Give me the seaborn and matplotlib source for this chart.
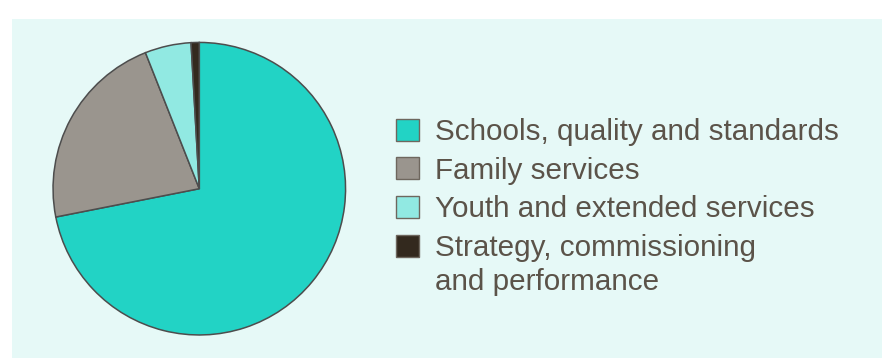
import matplotlib
matplotlib.use("Agg")
import matplotlib.pyplot as plt
import seaborn as sns

# --- Data ---
categories = [
    "Schools, quality and standards",
    "Family services",
    "Youth and extended services",
    "Strategy, commissioning\nand performance",
]
shares = [71.9, 22.1, 5.1, 0.9]
colors = ["#22D3C5", "#9A958E", "#91E9E2", "#33291E"]

sns.set_theme(style="white")
plt.rcParams["font.family"] = ["Liberation Sans", "DejaVu Sans"]

text_color = "#5B5349"
edge_color = "#4D4D4D"
font_size = 21.3

fig = plt.figure(figsize=(8.85, 3.58), dpi=100)
fig.patch.set_facecolor("white")

# light panel behind the chart
bg = fig.add_axes([12 / 885, 0, 870 / 885, (358 - 19) / 358], zorder=-1)
bg.set_facecolor("#E6F9F7")
bg.set_xticks([])
bg.set_yticks([])
for s in bg.spines.values():
    s.set_visible(False)

# pie axes: centre ~ (199, 189) px, radius ~147 px
cx, cy, r = 199.3, 188.7, 147
ax = fig.add_axes([(cx - r) / 885, (358 - cy - r) / 358, 2 * r / 885, 2 * r / 358])
ax.set_facecolor("none")

wedges, _ = ax.pie(shares, colors=colors, startangle=90, counterclock=False,
                   wedgeprops=dict(edgecolor=edge_color, linewidth=1.1))
ax.set_xlim(-1.005, 1.005)
ax.set_ylim(-1.005, 1.005)
ax.set_aspect("equal")

# legend shows the first line of each label; extra lines are added underneath
first_lines = [c.split("\n")[0] for c in categories]
leg = fig.legend(wedges, first_lines, loc="upper left",
                 bbox_to_anchor=(396 / 885, 1 - 118 / 358),
                 frameon=False, fontsize=font_size, labelcolor=text_color,
                 handlelength=0.78, handleheight=0.78, handletextpad=0.55,
                 labelspacing=0.36, borderpad=0, borderaxespad=0)
for h in leg.legend_handles:
    h.set_edgecolor("#6E675E")
    h.set_linewidth(1.0)

for txt, cat in zip(leg.get_texts(), categories):
    rest = cat.split("\n")[1:]
    for i, line in enumerate(rest, start=1):
        ann = plt.Annotation(line, xy=(0, 0), xycoords=txt,
                             xytext=(0, -34 * i), textcoords="offset pixels",
                             va="bottom", ha="left", fontsize=font_size,
                             color=text_color)
        ann.set_zorder(10)
        fig.add_artist(ann)

plt.savefig("out.png", dpi=100)
